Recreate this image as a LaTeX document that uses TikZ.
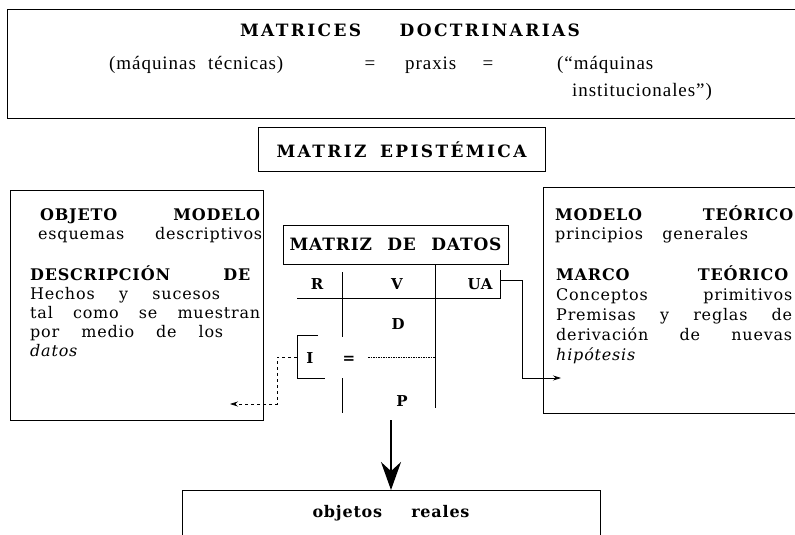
\documentclass[tikz,border=0pt]{standalone}
\usepackage{fontspec}
\setmainfont{Liberation Serif}
\newfontfamily\wideserif[LetterSpace=5]{DejaVu Serif}
\newfontfamily\titleserif[LetterSpace=14]{DejaVu Serif}
\newfontfamily\spacedrm[LetterSpace=5]{Liberation Serif}
\usetikzlibrary{arrows.meta,positioning}
\tikzset{
  >={Stealth[length=8pt,width=5pt]},
  % Cornici e righe
  frame/.style={draw,line width=0.7pt,inner sep=0pt},
  rule/.style={line width=0.7pt},
  % Testi
  title/.style={font=\titleserif\bfseries\fontsize{17}{19}\selectfont,inner sep=0pt,anchor=base},
  head/.style={font=\wideserif\bfseries\fontsize{16}{18}\selectfont,inner sep=0pt,anchor=base west},
  body/.style={font=\wideserif\fontsize{16}{18}\selectfont,inner sep=0pt,anchor=base west},
  plain/.style={font=\spacedrm\fontsize{19}{21}\selectfont,inner sep=0pt,anchor=base west},
  slant/.style={font=\wideserif\itshape\fontsize{16}{18}\selectfont,inner sep=0pt,anchor=base west},
  cell/.style={font=\wideserif\bfseries\fontsize{15}{17}\selectfont,inner sep=0pt,anchor=base},
  % Connessioni
  link/.style={line width=0.7pt,->},
  bigarrow/.style={line width=1.8pt,-{Stealth[length=28pt,width=20pt]}}
}
\begin{document}
\begin{tikzpicture}[x=1pt,y=-1pt]
  \useasboundingbox (0,0) rectangle (795,535);
  \clip (0,0) rectangle (795,535);
  % matrici dottrinarie
  \draw[rule] (7,9) rectangle (810,118);
  \node[title] (doct) at (410,37) {\makebox[340pt][s]{MATRICES DOCTRINARIAS}};
  \node[plain] (maqt) at (109,70) {(máquinas};
  \node[plain] (tecn) at (208,70) {técnicas)};
  \node[plain,anchor=base] (eqa) at (370,70) {=};
  \node[plain] (praxis) at (405,70) {praxis};
  \node[plain,anchor=base] (eqb) at (488,70) {=};
  \node[plain] (maqu) at (557,70) {(“máquinas};
  \node[plain] (inst) at (572,96) {institucionales”)};
  % matrice epistemica
  \node[frame,minimum width=287pt,minimum height=44pt,title]
    (epist) at (401.5,157) {\makebox[250pt][s]{MATRIZ EPISTÉMICA}};
  % oggetto modello
  \draw[rule] (10,190) rectangle (263,420);
  \node[head] (om1) at (40,220) {\makebox[220pt][s]{OBJETO MODELO}};
  \node[body] (om2) at (38,239) {\makebox[224pt][s]{esquemas descriptivos}};
  \node[head] (dd1) at (30,280) {\makebox[220pt][s]{DESCRIPCIÓN DE}};
  \node[body] (dd2) at (30,299) {\makebox[190pt][s]{Hechos y sucesos}};
  \node[body] (dd3) at (30,318) {\makebox[230pt][s]{tal como se muestran}};
  \node[body] (dd4) at (30,337) {\makebox[193pt][s]{por medio de los}};
  \node[slant] (dd5) at (30,356) {datos};
  % modello teorico
  \draw[rule] (543,187) rectangle (810,413);
  \node[head] (mt1) at (555,220) {\makebox[238pt][s]{MODELO TEÓRICO}};
  \node[body] (mt2) at (555,239) {\makebox[193pt][s]{principios generales}};
  \node[head] (mc1) at (556,280) {\makebox[232pt][s]{MARCO TEÓRICO}};
  \node[body] (mc2) at (556,300) {\makebox[236pt][s]{Conceptos primitivos}};
  \node[body] (mc3) at (556,320) {\makebox[236pt][s]{Premisas y reglas de}};
  \node[body] (mc4) at (556,340) {\makebox[236pt][s]{derivación de nuevas}};
  \node[slant] (mc5) at (556,360) {hipótesis};
  % matrice di dati
  \node[frame,minimum width=225pt,minimum height=39pt,font=\wideserif\bfseries\fontsize{17}{19}\selectfont]
    (mdat) at (395.5,244.5) {\makebox[212pt][s]{MATRIZ DE DATOS}};
  \node[cell] (rr) at (317,289) {R};
  \node[cell] (vv) at (397,289) {V};
  \node[cell] (ua) at (480,289) {UA};
  \node[cell] (dd) at (398,329) {D};
  \node[cell] (ii) at (310,363) {I};
  \node[cell] (eqi) at (349,363) {=};
  \node[cell] (pp) at (402,406) {P};
  \draw[rule] (342,272) -- (342,337) (342,378) -- (342,413);
  \draw[rule] (435,264) -- (435,408);
  \draw[rule] (297,298) -- (500,298) -- (500,270);
  \draw[rule,dash pattern=on 1.5pt off 1pt] (368,357) -- (435,357);
  \draw[rule] (318,335) -| (297,378) -- (325,378);
  % frecce
  \coordinate (ibr) at (297,357);
  \coordinate (datend) at (230,404);
  \draw[link,dashed] (ibr) -- (277,357) |- (datend);
  \coordinate (uar) at (500,280);
  \coordinate (hypend) at (561,378);
  \draw[link] (uar) -- (522,280) |- (hypend);
  % oggetti reali
  \draw[rule] (182,490) rectangle (600,600);
  \node[head,anchor=base] (obj) at (391,517) {\makebox[157pt][s]{objetos reales}};
  \coordinate (dtop) at (391,420);
  \coordinate (rtop) at (391,490);
  \draw[bigarrow] (dtop) -- (rtop);
\end{tikzpicture}
\end{document}
